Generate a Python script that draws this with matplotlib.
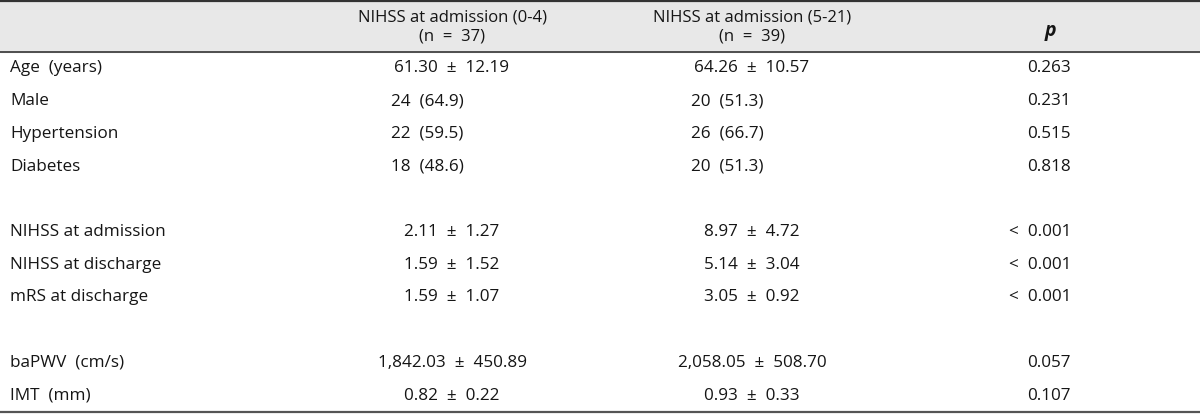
import matplotlib
matplotlib.use('Agg')
import matplotlib.pyplot as plt

plt.rcParams['font.family'] = ['Open Sans', 'DejaVu Sans']

# table content
col_headers = ["NIHSS at admission (0-4)\n(n  =  37)",
               "NIHSS at admission (5-21)\n(n  =  39)"]
p_header = "p"

row_labels = ["Age  (years)", "Male", "Hypertension", "Diabetes", "",
              "NIHSS at admission", "NIHSS at discharge", "mRS at discharge", "",
              "baPWV  (cm/s)", "IMT  (mm)"]
group_low = ["61.30  ±  12.19", "24  (64.9)", "22  (59.5)", "18  (48.6)", "",
             "2.11  ±  1.27", "1.59  ±  1.52", "1.59  ±  1.07", "",
             "1,842.03  ±  450.89", "0.82  ±  0.22"]
group_high = ["64.26  ±  10.57", "20  (51.3)", "26  (66.7)", "20  (51.3)", "",
              "8.97  ±  4.72", "5.14  ±  3.04", "3.05  ±  0.92", "",
              "2,058.05  ±  508.70", "0.93  ±  0.33"]
p_values = ["0.263", "0.231", "0.515", "0.818", "",
            "<  0.001", "<  0.001", "<  0.001", "",
            "0.057", "0.107"]

W, H = 1200, 417
fig = plt.figure(figsize=(12, 4.17), dpi=100)
ax = fig.add_axes([0, 0, 1, 1])
ax.set_xlim(0, W)
ax.set_ylim(H, 0)
ax.axis('off')

header_bottom = 52
body_bottom = 412
row_h = (body_bottom - header_bottom) / len(row_labels)

# header band and rules
ax.axhspan(0, header_bottom, color='#e8e8e8', zorder=0)
ax.axhline(1, color='#333333', lw=1.6)
ax.axhline(header_bottom, color='#333333', lw=1.2)
ax.axhline(body_bottom, color='#555555', lw=1.6)

fs = 12.3
txt = '#151515'
col1_x, col2_x, p_x = 452, 752, 1071
ax.text(col1_x, 27, col_headers[0], ha='center', va='center', fontsize=12,
        linespacing=1.2, color=txt)
ax.text(col2_x, 27, col_headers[1], ha='center', va='center', fontsize=12,
        linespacing=1.2, color=txt)
ax.text(1050, 31, p_header, ha='center', va='center', fontsize=14,
        style='italic', fontweight='bold', color=txt)

for i, label in enumerate(row_labels):
    y = header_bottom + row_h * (i + 0.5)
    if not label:
        continue
    ax.text(10, y, label, ha='left', va='center', fontsize=fs, color=txt)
    for x, val in ((col1_x, group_low[i]), (col2_x, group_high[i])):
        if '±' in val:
            ax.text(x, y, val, ha='center', va='center', fontsize=fs, color=txt)
        else:
            ax.text(x - 61, y, val, ha='left', va='center', fontsize=fs, color=txt)
    ax.text(p_x, y, p_values[i], ha='right', va='center', fontsize=fs, color=txt)

fig.savefig('out.png', dpi=100)
